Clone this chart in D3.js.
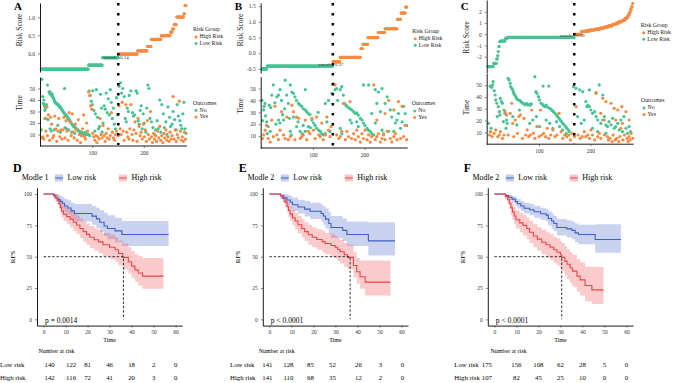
<!DOCTYPE html>
<html>
<head>
<meta charset="utf-8">
<script src="https://cdn.jsdelivr.net/npm/d3@7"></script>
<style>
    body, html { margin: 0; padding: 0; background: #fff; }
    text { font-family: "Liberation Serif", "Times New Roman", serif; }
</style>
</head>
<body>
<div id="container"></div>
<script>
// ---------- data: risk score runs ([score, number of patients]) ----------
const riskLowA = [[-0.44, 92], [-0.33, 27], [-0.12, 31]];
const riskHighA = [[-0.02, 37], [0.07, 19], [0.19, 8], [0.39, 19], [0.49, 18], [0.59, 4], [0.68, 3], [0.8, 5], [1.01, 14], [1.1, 2], [1.33, 3]];
const riskLowB = [[-0.5, 10], [-0.41, 128]];
const riskHighB = [[-0.27, 14], [-0.13, 40], [0.15, 4], [0.28, 10], [0.5, 20], [0.66, 13], [0.78, 24], [1.08, 7], [1.28, 9], [1.47, 3]];
const riskLowC = [[-2.89, 11], [-2.6, 6], [-2.2, 2], [-1.9, 1], [-1.55, 1], [-1.1, 2], [-0.66, 1], [-0.6, 10], [-0.36, 4], [-0.27, 130]];
const riskHighC = [[0, 14], [0.25, 8], [0.3, 8], [0.38, 10], [0.45, 10], [0.55, 8], [0.65, 8], [0.75, 8], [0.88, 7], [1.0, 6], [1.12, 6], [1.25, 5], [1.4, 4], [1.55, 3], [1.75, 2], [1.95, 2], [2.2, 2], [2.45, 2], [2.75, 1]];
const cutoffRank = [150.5, 138.5, 168.5];
const cutoffValue = [-0.14, -0.37, -0.16];
const cutoffText = ["cutoff: -0.14", "cutoff: -0.37", "cutoff: -0.16"];

// ---------- data: follow-up time per patient rank ([rank, time]) ----------
const noA = [[1,14],[2,58],[4,43],[5,37],[6,40],[7,35],[8,31],[9,33],[10,24],[11,36],[13,53],[14,23],
[16,47],[17,46],[18,47],[19,45],[20,46],[21,44],[22,45],[23,43],[24,42],[25,41],[26,40],[27,39],[28,38],[30,37],[31,37],[32,36],[34,36],[35,35],[36,34],[38,34],[39,33],[40,32],[42,31],[43,30],[45,29],[46,28],[48,27],[49,27],[50,26],[52,25],[53,24],[55,23],[56,22],[58,21],[59,20],[61,19],[62,18],[64,17],[65,17],[67,16],[68,15],[70,15],[72,14],[73,13],[75,13],[77,12],[79,12],[81,11],[83,11],[85,10],[87,11],[89,10],[91,10],[93,10],[95,9],
[18,15],[20,13],[26,14],[33,18],[38,12],[46,50],[47,16],[50,15],[54,14],[60,12],[66,11],[76,10],[80,9],[86,12],
[94,48],[96,44],[98,39],[100,36],[101,48],[103,31],[105,13],[106,28],[108,49],[110,25],[112,15],[114,17],[116,45],[118,33],[119,12],[121,20],[123,35],[125,32],[127,46],[129,29],[131,41],[133,27],[135,49],[137,38],[139,24],[141,33],[143,19],[145,15],[147,42],[149,27],
[152,52],[155,55],[157,46],[159,50],[162,43],[164,24],[166,21],[168,33],[170,30],[172,44],[175,48],[178,29],[180,26],[182,27],[185,48],[187,46],[189,22],[191,19],[193,31],[195,35],[197,15],[199,28],[201,20],[204,12],[206,33],[208,53],[210,50],[212,24],[215,21],[218,16],[221,10],[223,14],[226,22],[228,15],[231,40],[233,12],[235,36],[238,28],[240,16],[243,21],[245,10],[247,34],[250,25],[252,17],[255,19],[257,30],[260,23],[263,14],[265,36],[267,26],[270,22],[272,18],[274,15],[276,28],[278,38],[280,15],[282,11]];
const yesA = [[2,7],[4,8],[6,6],[8,24],[10,13],[12,34],[13,9],[15,27],[17,5],[19,25],[21,19],[23,7],[25,9],[27,26],[29,15],[31,4],[33,13],[35,24],[37,8],[39,14],[41,6],[43,14],[45,25],[47,7],[49,22],[51,13],[53,5],[55,29],[57,21],[59,9],[61,28],[63,12],[65,7],[67,19],[69,14],[71,5],[73,23],[75,10],[77,3],[79,9],[81,15],[83,27],[85,8],[87,6],[89,20],[91,13],[93,47],[95,44],[97,35],[99,32],[101,11],[103,8],[105,5],[107,9],[109,3],[111,8],[113,6],[115,24],[117,10],[119,7],[121,18],[123,9],[125,4],[127,11],[129,7],[131,15],[133,6],[135,9],[137,29],[139,12],[141,7],[143,5],[145,10],[147,13],
[150,9],[152,35],[154,15],[156,10],[158,38],[160,13],[162,5],[165,36],[167,12],[169,8],[171,6],[173,15],[175,36],[177,10],[179,5],[181,14],[183,21],[185,11],[187,4],[189,24],[191,17],[193,9],[195,12],[197,6],[199,19],[201,8],[203,14],[205,4],[207,22],[209,10],[211,6],[213,30],[215,8],[217,3],[219,11],[221,6],[223,9],[225,4],[227,13],[229,7],[231,17],[233,5],[235,9],[237,3],[239,11],[241,7],[243,14],[245,5],[247,8],[249,4],[251,12],[253,6],[255,9],[257,43],[259,6],[261,14],[263,4],[265,10],[267,7],[269,39],[271,13],[273,5],[275,8],[277,4],[279,12],[281,6]];

const noB = [[1,40],[4,32],[7,37.5],[10,22],[13,18],[17,14],[20,44.5],[23,53],[30,43],[33,44.5],[36,49],[39,40],[46,57],[49,44.5],[52,37.5],[56,53],[59,47],[62,46],[65,43],[68,40],[72,37.5],[75,36],[78,35],[81,33],[85,49],[85,32],[88,30.5],[91,29],[94,28],[98,23.5],[101,21],[104,19],[107,16.5],[111,15],[114,14],[117,12],[120,11],[124,12],[33,23.5],[36,21],[43,23.5],[56,14],[62,26],[68,18],[75,14],[81,19],[85,14],[91,18],[124,37.5],[130,40],[137,46],
[2,23],[5,35],[8,27],[11,12],[15,36],[18,34],[26,38],[28,20],[41,28],[45,33],[54,25],[58,11],[71,22],[79,12],[95,17],[110,30],[127,22],[133,14],
[140,54],[143,49],[146,50],[148,40],[153,49],[156,51.5],[159,44.5],[161,37.5],[164,36],[166,35],[169,34],[172,33],[175,32],[179,30.5],[182,29],[185,29.5],[188,27.7],[192,25],[195,23.5],[198,21],[201,19],[205,16.5],[208,15],[211,14],[214,12],[218,11],[198,53],[208,53],[221,49],[227,47],[234,50],[240,37.5],[244,43],[250,32],[253,26],[257,14],[260,21],[263,23.5],[266,29],[270,16.5],[273,22],[276,35],[279,29],[282,19],[224,37.5],[231,30.5],[234,15],[237,12],[247,14],[214,29],[221,21],[185,22],[188,18],[172,23.5],[175,21],[153,16.5],[156,12]];
const yesB = [[2,8],[4,11],[7,15],[10,19],[13,8],[17,5],[20,23.5],[23,9.5],[26,35],[30,11],[33,7],[36,15],[39,30.5],[43,11],[46,8],[49,26],[52,7],[56,9.5],[59,36],[62,30.5],[65,7],[68,26],[72,25],[75,8],[78,9.5],[81,11],[85,23.5],[88,7],[91,14],[94,12],[98,25],[101,15],[104,8],[107,26],[111,11],[114,9.5],[117,21],[120,7],[124,11],[127,26],[130,15],[133,9.5],[135,18],
[143,53],[146,11],[150,8],[153,9.5],[156,14],[159,37.5],[163,7],[166,14],[169,9.5],[172,39],[175,8],[179,12],[182,7],[185,15],[188,9.5],[192,5],[195,12],[198,8],[201,15],[205,7],[208,11],[211,5],[214,9.5],[218,53],[221,7],[224,9.5],[227,12],[231,5],[234,8],[237,11],[240,7],[244,14],[247,40],[250,8],[253,5],[257,9.5],[260,12],[263,7],[266,39],[270,8],[273,35],[276,9.5],[279,19],[282,7],[224,23.5],[240,29],[257,32]];

const noC = [[2,17.7],[5,49.3],[7,13.5],[8,48.2],[10,50.2],[11,53],[13,45.4],[15,41.7],[16,37.5],[18,34.7],[19,23.4],[21,31.8],[23,27.6],[24,24.8],[25,38.9],[27,36.1],[29,34.7],[31,19.1],[32,29],[34,26.2],[36,13.5],[37,20.5],[38,17.7],[40,55.8],[42,54.4],[44,51.6],[45,48.8],[47,47.4],[49,46],[50,44.5],[51,43.1],[53,41.7],[55,40.3],[56,38.9],[58,38],[60,37.5],[63,36.9],[65,36.1],[67,35.2],[69,34.7],[71,34.1],[73,33.5],[76,34.7],[78,33.2],[81,33.8],[83,33],[85,34.1],[49,23.4],[57,16.3],[62,29],
[92,57.2],[94,44.5],[96,43.1],[99,40.3],[101,37.5],[104,34.7],[107,33.8],[109,32.4],[112,31.8],[114,33.2],[117,31.3],[119,49.3],[121,30.4],[123,29.6],[126,28.4],[128,27.6],[131,26.2],[134,24.8],[136,23.4],[139,21.9],[141,20.5],[144,19.1],[146,17.7],[149,16.3],[152,14.9],[154,13.5],[157,12.1],[159,10.6],[108,49.3],[114,20.5],[121,17.7],[127,13.5],[134,19.1],[140,14.9],[146,12.1],[153,9.2],[88,20.5],[95,23.4],[101,14.9],[82,17.7],
[167,48.8],[172,47.4],[175,23.4],[179,46],[182,17.7],[185,44.5],[188,20.5],[191,36.1],[193,31.8],[195,33.2],[198,31.8],[201,29],[204,26.2],[208,27.6],[211,23.4],[214,20.5],[217,50.2],[220,17.7],[224,20.5],[227,23.4],[230,16.3],[233,14.9],[236,19.1],[240,16.3],[243,21.9],[246,13.5],[249,14.9],[253,17.7],[256,12.1],[259,20.5],[262,10.6],[265,23.4],[269,13.5],[272,9.2],[275,14.9],[278,10.6],[198,46],[211,43.1],[224,41.7],[204,13.5],[214,10.6],[230,9.2]];
const yesC = [[4,7.8],[6,10.6],[9,6.4],[13,9.2],[16,12.1],[20,6.4],[23,7.8],[25,10.6],[29,5],[32,7.8],[34,27.6],[37,24.8],[40,7.8],[44,26.2],[47,34.7],[49,17.7],[51,6.4],[54,20.5],[58,9.2],[61,23.4],[64,24.8],[68,5],[71,21.9],[74,7.8],[77,12.1],[80,6.4],[83,7.8],[86,29],[89,9.2],[92,5],[96,14.9],[100,6.4],[103,29],[105,7.8],[109,9.2],[113,6.4],[116,13.5],[119,5],[123,7.8],[127,12.1],[131,6.4],[135,7.8],[139,26.2],[143,10.6],[146,5],[150,7.8],[154,6.4],[158,7.8],[161,3.6],
[164,9.2],[169,6.4],[172,31.8],[176,7.8],[180,5],[184,6.4],[188,10.6],[191,6.4],[195,7.8],[198,5],[201,12.1],[204,7.8],[208,3.6],[211,43.7],[214,6.4],[217,9.2],[220,5],[224,38.9],[227,7.8],[230,36.1],[233,6.4],[235,3.6],[238,5],[240,34.7],[242,2.2],[244,7.8],[246,30.4],[248,3.6],[251,5],[253,29],[255,2.2],[257,6.4],[259,13.5],[261,31.8],[263,3.6],[266,7.8],[269,27.6],[271,5],[273,2.2],[275,6.4],[277,3.6],[279,9.2],[282,5],[220,26.2],[227,20.5],[249,20.5],[262,17.7],[275,20.5]];

// ---------- data: Kaplan-Meier steps ([time, RFS, lower, upper]) ----------
const kmLowD = [[0,100,100,100],[4.5,98.6,96,100],[5.5,97.1,94,100],[6.5,95.7,92,99.5],[7.5,94.2,90,98.5],[8.5,92.7,88,97.5],[9.5,90.5,85.5,96],[11,88.9,83.5,95],[12.5,86.6,80.5,93],[14,84.5,78,92],[22,82.4,75.5,90.5],[24,80.2,73,89],[25.5,77.5,70,87],[27.5,74.5,66.5,85],[29,72.5,64,83],[32.5,70.6,61.5,81],[35.6,67.7,58.5,78.5]];
const kmHighD = [[0,100,100,100],[4.8,98.6,96.5,100],[5.5,97.2,94.5,100],[6.3,95.1,91.5,98.8],[7,92.3,88,96.8],[7.6,89.4,84.5,94.5],[8.2,86.6,81.5,92],[9,84,78.5,90],[10.5,82,76,88.5],[12,80,73.5,87],[13.5,77.5,70.5,85],[15,75.3,68,83],[16.5,72.5,65,80.5],[18,70,62,78.5],[19.5,67.8,59.5,76.5],[21,65.5,57,74.5],[23,63.5,55,72.5],[25,61.8,53,71],[27,59.5,50.5,69],[30,57.5,48,67.5],[32.5,55.5,46,65.5],[34,52.5,43,63],[36,49.5,40,60.5],[38.5,46,36.5,57.5],[40,42.5,33,54.5],[41.5,39.5,30,52],[43,37,27,50.5],[45,34.5,24.5,49]];
const kmLowE = [[0,100,100,100],[5,98.6,96,100],[6.5,97,93.5,100],[8,95.3,91,99.5],[9.5,93.5,88.5,98.5],[10.5,91.5,86.5,97],[13,89.7,84.5,95.5],[16,88,82,94.5],[18.5,86.3,80,93],[23.5,84.5,78,91.5],[24.5,82.5,75.5,90],[25.5,80,72.5,88.5],[27,76.5,68.5,85.5],[28,73.3,65,82.5],[33.3,71,62.5,80.5],[35.2,67.7,58.5,78],[45,62.6,51,77.5]];
const kmHighE = [[0,100,100,100],[5,98.6,96.5,100],[6,96.5,93.5,99.5],[7,93.6,89.5,97.5],[8,90,85.5,95],[8.7,87,81.5,92.5],[9.4,84,78.5,90],[10.5,81,75,87.5],[11.7,78.5,72,85],[13,75.5,68.5,82.5],[14.7,72.5,65.5,80],[16,70,62.5,77.5],[17.7,67.5,59.5,75.5],[19.5,65.5,57.5,73.5],[21.5,63.7,55.5,72],[24,62,53.5,70.5],[25.3,60.5,52,69],[28,59,50,68],[29.9,57.5,48.5,66.5],[31,55.8,46.5,65],[32.1,54,44.5,63.5],[34,51.5,42,61],[35.5,49.5,40,59.5],[38.2,43,33.5,53.5],[39.7,38,28.5,49],[41.2,34,24.5,47],[43.5,29.7,19,47]];
const kmLowF = [[0,100,100,100],[5,98.8,97,100],[6.5,97.5,95,99.5],[8,96,93,98.5],[9.5,94,90.5,97.5],[10.5,92.3,88.5,96],[12,90.5,86.5,94.5],[13.5,88.7,84.5,93],[16,87.5,83,92],[18,85.9,81,90.5],[21,84.3,79.5,89],[23.5,83.2,78,88],[24.5,80.5,75,86],[26,78.5,72.5,84.5],[27,76.5,70.5,82.5],[28.4,73.3,67,80],[32.9,72.2,65.5,79],[35.2,71,64,78],[36.7,69,61.5,76.5],[38.2,67.7,60,75.5],[45.8,63.7,53.2,76]];
const kmHighF = [[0,100,100,100],[5,98,96,100],[6,95.5,92.5,98.5],[6.8,92.5,88,97],[7.5,89,83.5,94.5],[8.2,85.8,79.5,92],[9,82.5,76,89.5],[9.8,79.5,72.5,87],[11.5,77,69.5,85],[13,75,67,83.5],[14.7,72.5,64,81],[16,69.5,61,78.5],[17.7,66.5,57.5,76],[19.5,64,55,73.5],[21.5,61.5,52,71.5],[23.5,59.5,49.5,69.5],[25.3,57.5,47.5,68],[27,55.5,45,66],[28.4,53.5,43,64.5],[30,51.5,40.5,62.5],[30.6,49.5,38.5,61],[32,46.5,35,58.5],[33,44,32,56],[34.4,41,29,53.5],[35.5,38.5,26,51.5],[37.5,34.5,22,48],[39,31.5,19,45.5],[41.2,27,14.5,42],[44.3,23.5,12.3,41.7]];
const kmEndLow = [56.8, 57.1, 57.5];
const kmEndHigh = [54.5, 55, 49.6];
const medianTime = [36.3, 36.7, 30.6];
const pValues = ["p = 0.0014", "p < 0.0001", "p < 0.0001"];
const modelNames = ["Modle 1", "Modle 2", "Modle 2"];
const tableTimes = [0, 10, 20, 30, 40, 50, 60];
const atRiskLow = [[140, 122, 81, 46, 18, 2, 0], [141, 128, 85, 52, 26, 3, 0], [175, 156, 108, 62, 28, 5, 0]];
const atRiskHigh = [[142, 116, 72, 41, 20, 3, 0], [141, 110, 68, 35, 12, 2, 0], [107, 82, 45, 25, 10, 0, 0]];

// ---------- styles ----------
const GREEN = "#45C393", ORANGE = "#F78A43", BLUE = "#3E5FC4", RED = "#EF4349";
const fmtMinus = f => d => d3.format(f)(d).replace("\u2212", "-");

const svg = d3.select("#container").append("svg")
    .attr("width", 676).attr("height", 383)
    .style("background", "#fff");

function styleAxis(g, size) {
    g.select(".domain").attr("stroke", "#000").attr("stroke-width", 0.9);
    g.selectAll(".tick line").attr("stroke", "#333").attr("stroke-width", 0.6);
    g.selectAll(".tick text").attr("fill", "#333").style("font-size", size + "px")
        .style("font-family", "'Liberation Serif', serif");
}

// ---------- top panels: risk score + follow-up time ----------
const topPanels = [
    { ox: 0, letter: "A", low: riskLowA, high: riskHighA, no: noA, yes: yesA,
      riskDom: [-0.52, 1.4], riskRange: [72, 3], riskTicks: [0, 0.5, 1], riskFmt: ".1f",
      timeRange: [146, 77], riskLabY: 30, timeLabY: 103, leg1: [193, 30], leg2: [193, 103.3] },
    { ox: 220.7, letter: "B", low: riskLowB, high: riskHighB, no: noB, yes: yesB,
      riskDom: [-0.63, 1.6], riskRange: [73, 3], riskTicks: [-0.5, 0, 0.5, 1, 1.5], riskFmt: ".1f",
      timeRange: [148, 76.6], riskLabY: 30, timeLabY: 106, leg1: [191.6, 31.7], leg2: [191, 104] },
    { ox: 446.7, letter: "C", low: riskLowC, high: riskHighC, no: noC, yes: yesC,
      riskDom: [-3.46, 3.06], riskRange: [73, 0], riskTicks: [-2, -1, 0, 1, 2], riskFmt: "d",
      timeRange: [144.2, 73.4], riskLabY: 37.5, timeLabY: 107.5, leg1: [194, 25.7], leg2: [194.3, 101] }
];

topPanels.forEach((p, i) => {
    const g = svg.append("g").attr("transform", `translate(${p.ox},0)`);
    const x = d3.scaleLinear().domain([1, 282]).range([41.3, 186]);
    const yR = d3.scaleLinear().domain(p.riskDom).range(p.riskRange);
    const yT = d3.scaleLinear().domain([0, 60]).range(p.timeRange);

    g.append("text").attr("x", 14).attr("y", 10).text(p.letter)
        .style("font-size", "11px").style("font-weight", "bold");

    // risk score points
    let rank = 1;
    const pts = [];
    p.low.forEach(([v, n]) => { for (let k = 0; k < n; k++) pts.push([rank++, v, 0]); });
    p.high.forEach(([v, n]) => { for (let k = 0; k < n; k++) pts.push([rank++, v, 1]); });
    g.append("g").selectAll("circle").data(pts).join("circle")
        .attr("cx", d => x(d[0])).attr("cy", d => yR(d[1])).attr("r", 1.6)
        .attr("fill", d => d[2] ? ORANGE : GREEN);

    const ax1 = g.append("g").attr("transform", "translate(40,0)")
        .call(d3.axisLeft(yR).tickValues(p.riskTicks).tickSize(2).tickSizeOuter(0).tickFormat(fmtMinus(p.riskFmt)));
    styleAxis(ax1, 5.5);

    g.append("text").attr("transform", `translate(22,${p.riskLabY}) rotate(-90)`)
        .attr("text-anchor", "middle").style("font-size", "7.5px").attr("fill", "#222").text("Risk Score");

    // time scatter
    g.append("g").selectAll("circle").data(p.no).join("circle")
        .attr("cx", d => x(d[0])).attr("cy", d => yT(d[1])).attr("r", 1.6).attr("fill", GREEN);
    g.append("g").selectAll("circle").data(p.yes).join("circle")
        .attr("cx", d => x(d[0])).attr("cy", d => yT(d[1])).attr("r", 1.6).attr("fill", ORANGE);

    const ax2 = g.append("g").attr("transform", "translate(40,0)")
        .call(d3.axisLeft(yT).tickValues([10, 20, 30, 40, 50]).tickSize(2).tickSizeOuter(0));
    styleAxis(ax2, 5.5);
    const ax3 = g.append("g").attr("transform", `translate(0,${p.timeRange[0]})`)
        .call(d3.axisBottom(x).tickValues([100, 200]).tickSize(2).tickSizeOuter(0));
    styleAxis(ax3, 5.5);
    ax3.select(".domain").attr("d", `M40,0H187`);

    g.append("text").attr("transform", `translate(22,${p.timeLabY}) rotate(-90)`)
        .attr("text-anchor", "middle").style("font-size", "7.5px").attr("fill", "#222").text("Time");

    // cutoff dotted line and label
    g.append("line").attr("x1", x(cutoffRank[i])).attr("x2", x(cutoffRank[i]))
        .attr("y1", 3).attr("y2", p.timeRange[0] - 1)
        .attr("stroke", "#000").attr("stroke-width", 2.5).attr("stroke-dasharray", "2.5,7.5");
    g.append("text").attr("x", x(cutoffRank[i]) - 2).attr("y", yR(cutoffValue[i]))
        .attr("text-anchor", "middle").attr("dominant-baseline", "middle")
        .style("font-size", "5px").attr("fill", "#333").text(cutoffText[i]);

    // legends
    const legends = [
        { pos: p.leg1, title: "Risk Group", items: [["High Risk", ORANGE], ["Low Risk", GREEN]] },
        { pos: p.leg2, title: "Outcomes", items: [["No", GREEN], ["Yes", ORANGE]] }
    ];
    legends.forEach(L => {
        const lg = g.append("g").attr("transform", `translate(${L.pos[0]},${L.pos[1]})`);
        lg.append("text").attr("dominant-baseline", "middle").style("font-size", "5.8px").attr("fill", "#222").text(L.title);
        L.items.forEach((it, k) => {
            lg.append("circle").attr("cx", 3).attr("cy", 7 + k * 6.6).attr("r", 1.5).attr("fill", it[1]);
            lg.append("text").attr("x", 6.5).attr("y", 7 + k * 6.6).attr("dominant-baseline", "middle")
                .style("font-size", "5.8px").attr("fill", "#222").text(it[0]);
        });
    });
});

// ---------- bottom panels: Kaplan-Meier ----------
const kmPanels = [
    { ox: 0, letter: "D", low: kmLowD, high: kmHighD, tableLab: 0, tableTitle: 56.5, nudge: [6, 5.5, 0, 0, 0, 0, 0] },
    { ox: 225.8, letter: "E", low: kmLowE, high: kmHighE, tableLab: 230, tableTitle: 276.7, nudge: [-2, -3, -3, -3, 1, 1, 1] },
    { ox: 450.8, letter: "F", low: kmLowF, high: kmHighF, tableLab: 454.3, tableTitle: 508.5, nudge: [-7.5, 0, 0, 0, 0, 0, 0] }
];

kmPanels.forEach((p, i) => {
    const g = svg.append("g").attr("transform", `translate(${p.ox},0)`);
    const x = d3.scaleLinear().domain([-3, 63]).range([37, 182.2]);
    const y = d3.scaleLinear().domain([-5, 105]).range([325.6, 187.8]);

    g.append("text").attr("x", 13).attr("y", 172).text(p.letter)
        .style("font-size", "12px").style("font-weight", "bold");

    // legend
    const lg = g.append("g").attr("transform", "translate(0,178)");
    lg.append("text").attr("x", 21.7).attr("dominant-baseline", "middle").style("font-size", "8px").text(modelNames[i]);
    [[55, BLUE, "Low risk"], [119, RED, "High risk"]].forEach(([lx, c, t]) => {
        lg.append("rect").attr("x", lx).attr("y", -3.5).attr("width", 8).attr("height", 7)
            .attr("fill", c).attr("fill-opacity", 0.3);
        lg.append("line").attr("x1", lx).attr("x2", lx + 8).attr("stroke", c).attr("stroke-width", 1);
        lg.append("text").attr("x", lx + 12.5).attr("dominant-baseline", "middle").style("font-size", "8px").text(t);
    });

    const curves = [[p.low, kmEndLow[i], BLUE], [p.high, kmEndHigh[i], RED]].map(([rows, end, c]) => {
        const last = rows[rows.length - 1];
        return [rows.concat([[end, last[1], last[2], last[3]]]), c];
    });
    curves.forEach(([pts, c]) => {
        g.append("path").datum(pts)
            .attr("d", d3.area().curve(d3.curveStepAfter).x(d => x(d[0])).y0(d => y(d[2])).y1(d => y(d[3])))
            .attr("fill", c).attr("fill-opacity", 0.28);
    });
    curves.forEach(([pts, c]) => {
        g.append("path").datum(pts)
            .attr("d", d3.line().curve(d3.curveStepAfter).x(d => x(d[0])).y(d => y(d[1])))
            .attr("fill", "none").attr("stroke", c).attr("stroke-width", 1.1);
    });

    // median lines
    g.append("path")
        .attr("d", `M${x(0)},${y(50)}H${x(medianTime[i])}V${y(0)}`)
        .attr("fill", "none").attr("stroke", "#000").attr("stroke-width", 0.8).attr("stroke-dasharray", "2.5,1.8");

    const ay = g.append("g").attr("transform", `translate(${x(-3)},0)`)
        .call(d3.axisLeft(y).tickValues([0, 25, 50, 75, 100]).tickSize(2).tickSizeOuter(0));
    styleAxis(ay, 5.5);
    const ax = g.append("g").attr("transform", `translate(0,${y(-5)})`)
        .call(d3.axisBottom(x).tickValues(tableTimes).tickSize(2).tickSizeOuter(0));
    styleAxis(ax, 5.5);

    g.append("text").attr("transform", `translate(13,257) rotate(-90)`)
        .attr("text-anchor", "middle").attr("dominant-baseline", "middle").style("font-size", "7px").text("RFS");
    g.append("text").attr("x", x(30)).attr("y", 342).attr("text-anchor", "middle")
        .style("font-size", "6px").text("Time");
    g.append("text").attr("x", 45).attr("y", 322.5).style("font-size", "7.5px").text(pValues[i]);

    // number at risk table
    svg.append("text").attr("x", p.tableTitle).attr("y", 353).attr("text-anchor", "middle")
        .style("font-size", "6px").text("Number at risk");
    [["Low risk", atRiskLow[i], 367], ["High risk", atRiskHigh[i], 379.5]].forEach(([lab, vals, ty]) => {
        svg.append("text").attr("x", p.tableLab).attr("y", ty).style("font-size", "6.8px").text(lab);
        g.selectAll(null).data(vals).join("text")
            .attr("x", (v, k) => x(tableTimes[k]) + p.nudge[k]).attr("y", ty)
            .attr("text-anchor", "middle").style("font-size", "6.8px").text(v => v);
    });
});
</script>
</body>
</html>
